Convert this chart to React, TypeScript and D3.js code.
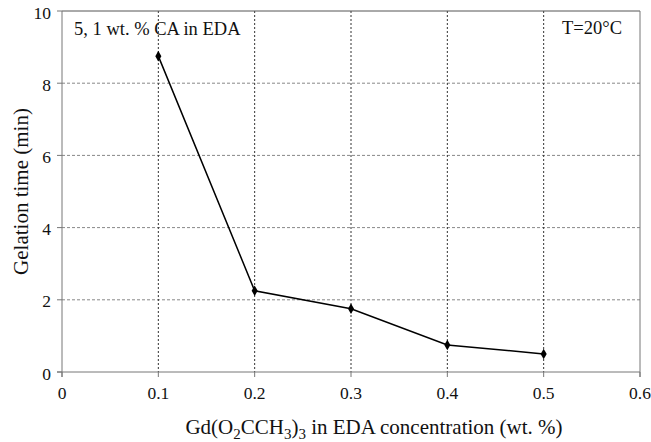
import React from "react";
import * as d3 from "d3";

// Gelation time vs. gadolinium acetate concentration
const concentration = [0.1, 0.2, 0.3, 0.4, 0.5];
const gelationTime = [8.75, 2.25, 1.75, 0.75, 0.5];
const xTicks = [0, 0.1, 0.2, 0.3, 0.4, 0.5, 0.6];
const yTicks = [0, 2, 4, 6, 8, 10];

const W = 651;
const H = 442;
const M = { left: 62, right: 11, top: 11, bottom: 70 };
const FONT = "Liberation Serif, DejaVu Serif, serif";

export default function App() {
  const x = d3.scaleLinear().domain([0, 0.6]).range([M.left, W - M.right]);
  const y = d3.scaleLinear().domain([0, 10]).range([H - M.bottom, M.top]);
  const line = d3
    .line<number>()
    .x((_, i) => x(concentration[i]))
    .y((d) => y(d));
  const diamond = d3.symbol(d3.symbolDiamond, 32)() as string;
  const x0 = x(0);
  const x1 = x(0.6);
  const y0 = y(0);
  const y1 = y(10);

  return (
    <svg
      width={W}
      height={H}
      style={{ position: "absolute", left: 0, top: 0, background: "#fff" }}
      fontFamily={FONT}
    >
      {/* horizontal grid */}
      {yTicks
        .filter((t) => t > 0 && t < 10)
        .map((t) => (
          <line
            key={"hg" + t}
            x1={x0}
            x2={x1}
            y1={y(t)}
            y2={y(t)}
            stroke="#888"
            strokeWidth={1}
            strokeDasharray="3,2"
          />
        ))}
      {/* vertical grid */}
      {xTicks
        .filter((t) => t > 0 && t < 0.6)
        .map((t) => (
          <line
            key={"vg" + t}
            x1={x(t)}
            x2={x(t)}
            y1={y1}
            y2={y0}
            stroke="#333"
            strokeWidth={1}
            strokeDasharray="2,2"
          />
        ))}
      {/* frame */}
      <line x1={x0} x2={x1} y1={y1} y2={y1} stroke="#555" strokeWidth={1} />
      <line x1={x1} x2={x1} y1={y1} y2={y0 + 5} stroke="#777" strokeWidth={1} />
      <line x1={x0} x2={x0} y1={y1} y2={y0 + 5} stroke="#777" strokeWidth={1} />
      <line x1={x0 - 5} x2={x1} y1={y0} y2={y0} stroke="#777" strokeWidth={1} />
      {/* y ticks */}
      {yTicks.map((t) => (
        <g key={"yt" + t}>
          <line x1={x0 - 5} x2={x0} y1={y(t)} y2={y(t)} stroke="#777" />
          <text x={x0 - 11} y={y(t) + 7.5} textAnchor="end" fontSize={17.5} fill="#111">
            {t}
          </text>
        </g>
      ))}
      {/* x ticks */}
      {xTicks.map((t) => (
        <g key={"xt" + t}>
          <line x1={x(t)} x2={x(t)} y1={y0} y2={y0 + 5} stroke="#777" />
          <text x={x(t)} y={y0 + 27} textAnchor="middle" fontSize={17.5} fill="#111">
            {t}
          </text>
        </g>
      ))}
      {/* data */}
      <path d={line(gelationTime) || ""} fill="none" stroke="#000" strokeWidth={1.5} />
      {gelationTime.map((v, i) => (
        <path
          key={"m" + i}
          d={diamond}
          transform={`translate(${x(concentration[i])},${y(v)})`}
          fill="#000"
        />
      ))}
      {/* annotations */}
      <text x={74} y={35} fontSize={18.5} fill="#111">
        5, 1 wt. % CA in EDA
      </text>
      <text x={622} y={34} fontSize={18.5} textAnchor="end" fill="#111">
        T=20°C
      </text>
      {/* axis titles */}
      <text
        transform={`translate(28,${(y0 + y1) / 2}) rotate(-90)`}
        textAnchor="middle"
        fontSize={21}
        fill="#111"
      >
        Gelation time (min)
      </text>
      <text x={374} y={434} textAnchor="middle" fontSize={21} fill="#111">
        Gd(O
        <tspan fontSize={15} dy={5}>2</tspan>
        <tspan dy={-5}>CCH</tspan>
        <tspan fontSize={15} dy={5}>3</tspan>
        <tspan dy={-5}>)</tspan>
        <tspan fontSize={15} dy={5}>3</tspan>
        <tspan dy={-5}> in EDA concentration (wt. %)</tspan>
      </text>
    </svg>
  );
}
